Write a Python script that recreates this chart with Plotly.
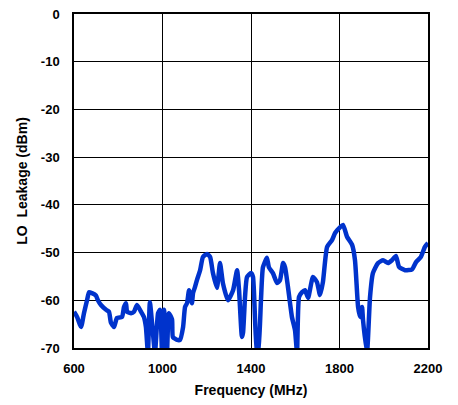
import plotly.graph_objects as go

freq_mhz = [600, 614, 632, 645, 659, 668, 681, 699, 708, 722, 745, 758, 767, 781, 794, 817, 826, 835, 840, 858,
            871, 885, 903, 916, 925, 934, 943, 957, 966, 980, 989, 998, 1007, 1020, 1029, 1043, 1047, 1066, 1079, 1093,
            1102, 1111, 1120, 1133, 1138, 1147, 1156, 1170, 1183, 1201, 1215, 1228, 1246, 1260, 1273, 1296, 1319, 1337, 1346, 1359,
            1364, 1373, 1382, 1400, 1409, 1427, 1432, 1445, 1454, 1472, 1481, 1499, 1518, 1531, 1545, 1554, 1567, 1585, 1599, 1608,
            1617, 1631, 1644, 1658, 1680, 1698, 1712, 1725, 1744, 1766, 1780, 1802, 1816, 1834, 1857, 1870, 1884, 1893, 1902, 1906,
            1924, 1938, 1951, 1974, 1997, 2019, 2037, 2055, 2069, 2096, 2128, 2146, 2168, 2186, 2200]
leakage_dbm = [-62.4, -63.5, -65.6, -62.7, -60.0, -58.3, -58.5, -59.0, -60.0, -61.0, -62.0, -62.4, -64.7, -65.6, -63.7, -63.5, -61.4, -60.6, -62.4, -62.7,
               -62.4, -61.0, -62.4, -63.5, -65.6, -71, -60.4, -67, -71, -62.7, -62, -71, -62, -71, -62.7, -64, -67.7, -68.3, -68.3, -65.6,
               -61.4, -60.6, -57.9, -60.6, -58.5, -57.2, -55.7, -53.7, -50.9, -50.3, -50.9, -54.3, -57.4, -52.2, -56.4, -60.0, -57.9, -53.7, -57.9, -67.7,
               -66.8, -59.3, -55.1, -54.3, -55.1, -71, -71, -60.0, -53.1, -51.1, -53.1, -54.3, -56.4, -55.8, -52.2, -53.1, -57.2, -63.5, -66.3, -71,
               -59.3, -58.3, -57.9, -59.5, -55.1, -56.2, -58.9, -56.2, -48.8, -47.4, -45.9, -44.7, -44.2, -46.7, -48.4, -51.6, -61.4, -63.5, -61.4, -64,
               -71, -59.3, -54.3, -52.2, -51.6, -52.2, -51.6, -50.7, -53.0, -53.7, -53.5, -52.0, -50.9, -48.8, -48.0]

x_ticks = [600, 1000, 1400, 1800, 2200]
y_ticks = [0, -10, -20, -30, -40, -50, -60, -70]

fig = go.Figure()
fig.add_trace(go.Scatter(x=freq_mhz, y=leakage_dbm, mode="lines",
                         line=dict(color="#0033CC", width=4.5, shape="spline", smoothing=0.5),
                         showlegend=False))

font = dict(family="Liberation Sans, Arial, sans-serif", size=13, color="black")
fig.update_layout(
    width=458, height=405,
    margin=dict(l=66, r=38, t=6, b=65, autoexpand=False),
    paper_bgcolor="white", plot_bgcolor="white",
    font=font,
    xaxis=dict(range=[600, 2200], tickvals=x_ticks, ticktext=[f"<b>{v}</b>" for v in x_ticks],
               showgrid=True, gridcolor="black", gridwidth=1,
               showline=True, linecolor="black", linewidth=1.5, mirror=True,
               ticks="", zeroline=False, ticklabelstandoff=8, automargin=False,
               ticklabeloverflow="allow",
               title=dict(text="<b>Frequency (MHz)</b>", font=dict(size=14), standoff=10)),
    yaxis=dict(range=[-70, 0], tickvals=y_ticks, ticktext=[f"<b>{v}</b>" for v in y_ticks],
               showgrid=True, gridcolor="black", gridwidth=1,
               showline=True, linecolor="black", linewidth=1.5, mirror=True,
               ticks="", zeroline=False, ticklabelstandoff=10, automargin=False,
               ticklabeloverflow="allow",
               title=dict(text="<b>LO\u00a0 Leakage (dBm)</b>", font=dict(size=14), standoff=10)),
)

fig.write_html("out.html")
